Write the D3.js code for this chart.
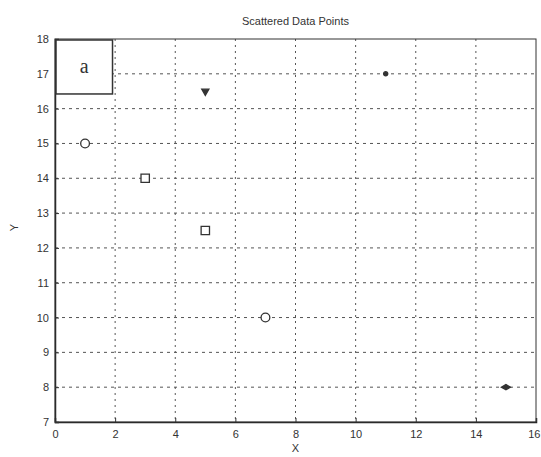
<!DOCTYPE html>
<html>
<head>
<meta charset="utf-8">
<script src="https://cdn.jsdelivr.net/npm/d3@7"></script>
<style>
    body { margin: 0; background: #fff; }
    text { font-family: "Liberation Sans", Arial, sans-serif; fill: #333; }
</style>
</head>
<body>
<div id="graph"></div>
<script>
// data
let xValues = [1, 3, 5, 5, 7, 11, 15];
let yValues = [15, 14, 16.5, 12.5, 10, 17, 8];
let markers = ["circle", "square", "triangle", "square", "circle", "dot", "diamond"];
let xTicks = [0, 2, 4, 6, 8, 10, 12, 14, 16];
let yTicks = [7, 8, 9, 10, 11, 12, 13, 14, 15, 16, 17, 18];
let legendLabel = "a";

window.onload = start;

function start() {
    var margin = { top: 39, right: 5, bottom: 35, left: 55 },
        width = 541 - margin.left - margin.right,
        height = 457 - margin.top - margin.bottom;

    var svg = d3.select("#graph")
        .append("svg")
        .attr("width", 541)
        .attr("height", 457)
        .append("g")
        .attr("transform", "translate(" + margin.left + "," + margin.top + ")");

    let xScale = d3.scaleLinear().domain([0, 16]).range([0, width]);
    let yScale = d3.scaleLinear().domain([7, 18]).range([height, 0]);

    // dotted grid
    svg.append("g")
        .selectAll("line")
        .data(xTicks.slice(1, -1))
        .enter()
        .append("line")
        .attr("x1", d => xScale(d)).attr("x2", d => xScale(d))
        .attr("y1", 0).attr("y2", height)
        .attr("stroke", "#555")
        .attr("stroke-width", 1)
        .attr("stroke-dasharray", "2,4");

    svg.append("g")
        .selectAll("line")
        .data(yTicks.slice(1, -1))
        .enter()
        .append("line")
        .attr("x1", 0).attr("x2", width)
        .attr("y1", d => yScale(d)).attr("y2", d => yScale(d))
        .attr("stroke", "#555")
        .attr("stroke-width", 1)
        .attr("stroke-dasharray", "3,4");

    // axes
    var xAxis = d3.axisBottom(xScale).tickValues(xTicks).tickSize(-4).tickPadding(8);
    var yAxis = d3.axisLeft(yScale).tickValues(yTicks).tickSize(-4).tickPadding(6);

    svg.append("g")
        .attr("class", "xaxis")
        .attr("transform", "translate(0," + height + ")")
        .call(xAxis);

    svg.append("g")
        .attr("class", "yaxis")
        .call(yAxis);

    svg.selectAll(".xaxis .domain, .yaxis .domain").attr("stroke", "#222").attr("stroke-width", 1.5);
    svg.selectAll(".tick line").attr("stroke", "#333");
    svg.selectAll(".tick text").style("font-size", "11px").attr("fill", "#444");

    // the last x label sits on the window edge, keep it inside
    svg.selectAll(".xaxis .tick text")
        .filter(d => d == 16)
        .style("text-anchor", "end")
        .attr("dx", "4px");

    // box frame (top and right)
    svg.append("rect")
        .attr("x", 0).attr("y", 0)
        .attr("width", width).attr("height", height)
        .attr("fill", "none")
        .attr("stroke", "#333")
        .attr("stroke-width", 1);

    // legend box
    svg.append("rect")
        .attr("x", xScale(0) + 1)
        .attr("y", yScale(18) + 1)
        .attr("width", xScale(1.88) - xScale(0))
        .attr("height", yScale(16.45) - yScale(18))
        .attr("fill", "#fff")
        .attr("stroke", "#333")
        .attr("stroke-width", 1.5);

    svg.append("text")
        .attr("x", xScale(0.97))
        .attr("y", yScale(17.2) + 6)
        .style("text-anchor", "middle")
        .style("font-family", "Liberation Serif, serif")
        .style("font-size", "20px")
        .attr("fill", "#333")
        .text(legendLabel);

    // points
    let points = xValues.map((x, i) => ({ x: x, y: yValues[i], m: markers[i] }));
    let symbolFor = {
        circle: d3.symbolCircle,
        square: d3.symbolSquare,
        triangle: d3.symbolTriangle,
        diamond: d3.symbolDiamond,
        dot: d3.symbolCircle
    };
    let sizeFor = { circle: 60, square: 70, triangle: 22, diamond: 24, dot: 14 };

    svg.append("g")
        .selectAll("path")
        .data(points)
        .enter()
        .append("path")
        .attr("transform", d => "translate(" + xScale(d.x) + "," + yScale(d.y) + ")" + (d.m == "triangle" ? " rotate(180)" : "") + (d.m == "diamond" ? " rotate(90)" : ""))
        .attr("d", d => d3.symbol().type(symbolFor[d.m]).size(sizeFor[d.m])())
        .attr("fill", d => (d.m == "triangle" || d.m == "dot" || d.m == "diamond") ? "#333" : "#fff")
        .attr("stroke", "#333")
        .attr("stroke-width", 1.3);

    // title and labels
    svg.append("text")
        .attr("x", width / 2)
        .attr("y", -14)
        .style("text-anchor", "middle")
        .style("font-size", "11px")
        .text("Scattered Data Points");

    svg.append("text")
        .attr("x", width / 2)
        .attr("y", height + 30)
        .style("text-anchor", "middle")
        .style("font-size", "11px")
        .text("X");

    svg.append("text")
        .attr("transform", "rotate(-90)")
        .attr("x", -(height / 2) + 3)
        .attr("y", -37)
        .style("text-anchor", "middle")
        .style("font-size", "11px")
        .text("Y");
}
</script>
</body>
</html>
